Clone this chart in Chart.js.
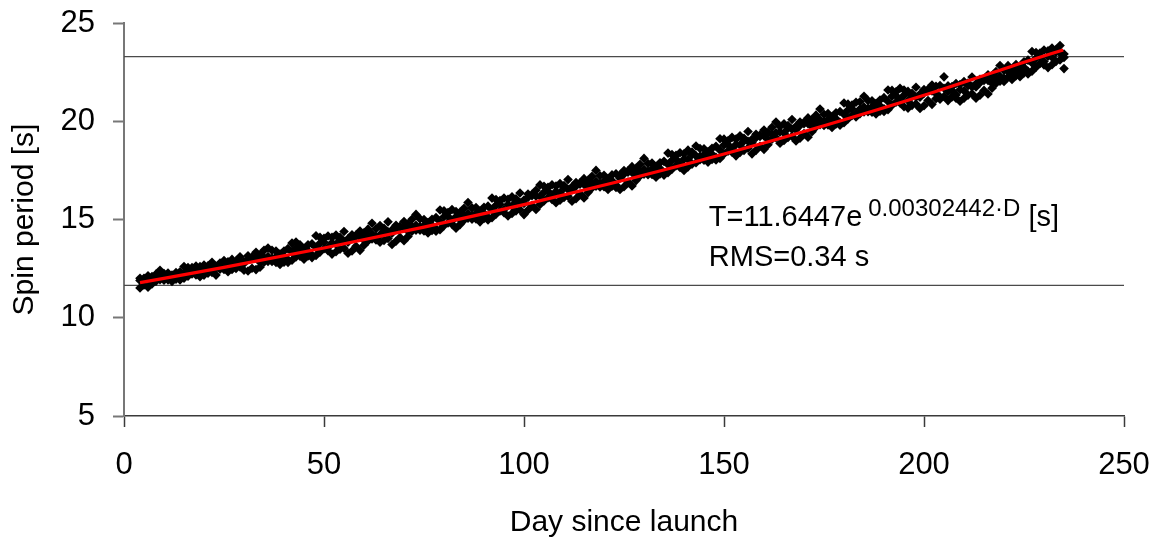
<!DOCTYPE html>
<html>
<head>
<meta charset="utf-8">
<script src="https://cdn.jsdelivr.net/npm/chart.js@4.4.1/dist/chart.umd.min.js"></script>
<style>
  html, body { margin: 0; padding: 0; background: #fff; }
  #wrap { width: 1156px; height: 538px; position: relative; }
</style>
</head>
<body>
<div id="wrap"><canvas id="spinChart"></canvas></div>
<script>
// --- data ---
const xTicks = [0, 50, 100, 150, 200, 250];
const yTicks = [5, 10, 15, 20, 25];

// day, then three spin-period readings for that day [s]
const readings = [
  [4,11.90,11.52,12.01],[5,12.01,11.97,11.67],[6,11.55,11.96,12.14],[7,11.88,11.72,12.10],
  [8,12.22,11.86,12.00],[9,12.09,11.94,12.42],[10,11.91,12.01,12.25],[11,11.93,12.28,12.10],
  [12,11.85,12.00,12.17],[13,11.96,12.30,12.12],[14,12.00,12.34,11.92],[15,12.61,12.26,12.01],
  [16,12.56,12.11,12.38],[17,12.43,12.55,12.23],[18,12.28,12.63,12.18],[19,12.60,12.44,12.09],
  [20,12.17,12.68,12.40],[21,12.64,12.27,12.56],[22,12.52,12.82,12.31],[23,12.51,12.17,12.61],
  [24,12.67,12.79,12.47],[25,12.56,12.91,12.46],[26,12.85,12.69,12.34],[27,12.46,12.97,12.69],
  [28,12.88,12.51,12.80],[29,12.80,13.10,12.59],[30,12.76,12.42,12.86],[31,12.97,12.38,13.15],
  [32,13.09,13.02,12.52],[33,12.45,13.03,13.33],[34,12.83,12.57,13.20],[35,13.43,12.83,13.06],
  [36,13.12,12.87,13.55],[37,12.86,13.03,13.43],[38,12.82,13.40,13.10],[39,12.71,12.96,13.24],
  [40,12.83,13.40,13.10],[41,12.95,13.52,12.82],[42,13.80,13.35,12.93],[43,13.85,13.10,13.55],
  [44,13.13,13.71,13.41],[45,12.98,13.23,13.51],[46,13.14,13.71,13.41],[47,13.19,13.76,13.06],
  [48,14.17,13.59,13.17],[49,14.09,13.34,13.79],[50,13.84,14.04,13.51],[51,13.58,14.16,13.41],
  [52,14.09,13.82,13.24],[53,13.36,14.21,13.74],[54,14.10,13.49,13.97],[55,13.89,14.39,13.54],
  [56,13.85,13.28,14.02],[57,14.04,13.40,14.22],[58,14.21,14.14,13.64],[59,13.43,14.11,14.41],
  [60,13.95,13.69,14.32],[61,14.51,13.91,14.14],[62,14.26,14.01,14.81],[63,13.96,14.13,14.53],
  [64,13.84,14.69,14.22],[65,14.55,13.94,14.42],[66,14.38,14.88,14.03],[67,14.30,13.73,14.47],
  [68,14.53,13.89,14.71],[69,14.66,14.59,14.09],[70,13.92,14.60,14.90],[71,14.40,14.14,14.77],
  [72,15.01,14.41,14.64],[73,14.71,14.46,15.26],[74,14.46,14.63,15.03],[75,14.42,15.00,14.70],
  [76,14.31,14.56,14.84],[77,14.44,15.01,14.71],[78,14.53,15.10,14.40],[79,15.48,14.90,14.48],
  [80,15.44,14.69,15.14],[81,15.15,15.35,14.82],[82,14.93,15.51,14.76],[83,15.41,15.14,14.56],
  [84,15.00,14.74,15.37],[85,15.57,14.97,15.20],[86,15.31,15.06,15.86],[87,15.02,15.19,15.59],
  [88,15.03,15.61,15.31],[89,14.88,15.13,15.41],[90,15.05,15.62,15.32],[91,15.11,15.68,14.98],
  [92,16.09,15.51,15.09],[93,16.02,15.27,15.72],[94,15.76,15.96,15.43],[95,15.51,16.09,15.34],
  [96,16.03,15.76,15.18],[97,15.31,16.16,15.69],[98,16.05,15.44,15.92],[99,15.85,16.35,15.50],
  [100,15.82,15.25,15.99],[101,16.12,15.48,16.30],[102,16.28,16.21,15.71],[103,15.51,16.19,16.49],
  [104,16.76,16.18,15.76],[105,16.69,15.94,16.39],[106,16.44,16.64,16.11],[107,16.19,16.77,16.02],
  [108,16.70,16.43,15.85],[109,15.98,16.83,16.36],[110,16.73,16.12,16.60],[111,16.53,17.03,16.18],
  [112,16.50,15.93,16.67],[113,16.70,16.06,16.88],[114,16.87,16.80,16.30],[115,16.10,16.78,17.08],
  [116,16.63,16.37,17.00],[117,17.20,16.60,16.83],[118,16.95,16.70,17.50],[119,16.66,16.83,17.23],
  [120,16.67,17.25,16.95],[121,16.53,16.78,17.06],[122,16.70,17.27,16.97],[123,16.76,17.33,16.63],
  [124,17.10,16.53,17.27],[125,17.31,16.67,17.49],[126,17.48,17.41,16.91],[127,16.71,17.39,17.69],
  [128,17.24,16.98,17.61],[129,17.81,17.21,17.44],[130,17.56,17.31,18.11],[131,17.28,17.45,17.85],
  [132,17.29,17.87,17.57],[133,17.15,17.40,17.68],[134,17.32,17.89,17.59],[135,17.39,17.96,17.26],
  [136,18.38,17.80,17.38],[137,18.31,17.56,18.01],[138,18.07,18.27,17.74],[139,17.82,18.40,17.65],
  [140,18.34,18.07,17.49],[141,17.68,18.53,18.06],[142,18.43,17.82,18.30],[143,18.24,18.74,17.89],
  [144,18.04,18.21,18.61],[145,18.02,18.60,18.30],[146,17.92,18.17,18.45],[147,18.05,18.62,18.32],
  [148,18.16,18.73,18.03],[149,19.11,18.53,18.11],[150,19.09,18.34,18.79],[151,18.81,19.01,18.48],
  [152,18.60,19.18,18.43],[153,19.09,18.82,18.24],[154,18.41,19.26,18.79],[155,19.13,18.52,19.00],
  [156,18.98,19.48,18.63],[157,18.91,18.34,19.08],[158,19.16,18.52,19.34],[159,19.30,19.23,18.73],
  [160,18.57,19.25,19.55],[161,19.07,18.81,19.44],[162,19.69,19.09,19.32],[163,19.41,19.16,19.96],
  [164,19.73,19.46,18.88],[165,19.02,19.87,19.40],[166,19.78,19.17,19.65],[167,19.59,20.09,19.24],
  [168,19.57,19.00,19.74],[169,19.78,19.14,19.96],[170,19.95,19.88,19.38],[171,19.19,19.87,20.17],
  [172,19.73,19.47,20.10],[173,20.31,19.71,19.94],[174,20.07,19.82,20.62],[175,19.79,19.96,20.36],
  [176,19.81,20.39,20.09],[177,19.68,19.93,20.21],[178,19.86,20.43,20.13],[179,19.93,20.50,19.80],
  [180,20.93,20.35,19.93],[181,20.87,20.12,20.57],[182,20.63,20.83,20.30],[183,20.39,20.97,20.22],
  [184,20.99,20.39,20.62],[185,20.72,20.47,21.27],[186,20.48,20.65,21.05],[187,20.46,21.04,20.74],
  [188,20.37,20.62,20.90],[189,20.51,21.08,20.78],[190,20.63,21.20,20.50],[191,21.59,21.01,20.59],
  [192,21.57,20.82,21.27],[193,21.30,21.50,20.97],[194,21.10,21.68,20.93],[195,21.59,21.32,20.74],
  [196,20.67,21.52,21.05],[197,21.42,20.81,21.29],[198,21.23,21.73,20.88],[199,21.22,20.65,21.39],
  [200,21.43,20.79,21.61],[201,21.62,21.55,21.05],[202,20.86,21.54,21.84],[203,21.41,21.15,21.78],
  [204,21.25,21.82,21.12],[205,22.26,21.68,21.26],[206,21.80,21.05,21.50],[207,21.57,21.77,21.24],
  [208,21.34,21.92,21.17],[209,21.87,21.60,21.02],[210,21.17,22.02,21.55],[211,21.94,21.33,21.81],
  [212,21.75,22.25,21.40],[213,21.74,21.17,21.91],[214,21.96,21.32,22.14],[215,22.14,22.07,21.57],
  [216,21.39,22.07,22.37],[217,21.94,21.68,22.31],[218,22.53,21.93,22.16],[219,22.29,22.04,22.84],
  [220,22.02,22.19,22.59],[221,22.25,22.83,22.53],[222,22.13,22.38,22.66],[223,22.32,22.89,22.59],
  [224,22.27,22.52,22.80],[225,22.46,23.03,22.73],[226,22.54,23.11,22.41],[227,23.55,22.97,22.55],
  [228,23.50,22.75,23.20],[229,23.27,23.47,22.94],[230,23.04,23.62,22.87],[231,23.58,23.31,22.73],
  [232,22.88,23.73,23.26],[233,23.65,23.04,23.52],[234,23.47,23.85,23.12],[235,23.25,22.68,23.42]
];

// red fitted curve
const fitDays    = [4, 25, 50, 75, 100, 125, 150, 175, 200, 225, 234.8];
const fitPeriods = [11.79, 12.56, 13.55, 14.61, 15.76, 17.00, 18.33, 19.77, 21.32, 23.00, 23.63];

// the two thin horizontal reference lines (initial period and its double)
const refLevels = [11.6447, 23.2894];
const refSpan = [0, 250];

const noteMain = 'T=11.6447e';
const noteExp = '0.00302442\u00B7D';
const noteUnit = ' [s]';
const noteRms = 'RMS=0.34 s';

// --- build datasets ---
const scatterPts = [];
readings.forEach(r => {
  for (let i = 1; i < r.length; i++) scatterPts.push({x: r[0], y: r[i]});
});
const fitPts = fitDays.map((d, i) => ({x: d, y: fitPeriods[i]}));

const FONT = "'Liberation Sans', Arial, sans-serif";

// annotation text (formula + RMS)
const notePlugin = {
  id: 'note',
  afterDatasetsDraw(chart) {
    const {ctx, scales: {x, y}} = chart;
    const left = x.getPixelForValue(146.2);
    const base1 = y.getPixelForValue(14.67);
    const base2 = y.getPixelForValue(12.63);
    ctx.save();
    ctx.fillStyle = '#000';
    ctx.textBaseline = 'alphabetic';
    ctx.textAlign = 'left';
    ctx.font = '29px ' + FONT;
    ctx.fillText(noteMain, left, base1);
    const w = ctx.measureText(noteMain).width;
    ctx.font = '24px ' + FONT;
    ctx.fillText(noteExp, left + w + 6, base1 - 10);
    const w2 = ctx.measureText(noteExp).width;
    ctx.font = '29px ' + FONT;
    ctx.fillText(noteUnit, left + w + 6 + w2, base1);
    ctx.fillText(noteRms, left, base2);
    ctx.restore();
  }
};

new Chart(document.getElementById('spinChart'), {
  data: {
    datasets: [
      {
        type: 'line',
        data: fitPts,
        borderColor: '#ff0000',
        borderWidth: 3.2,
        pointRadius: 0,
        cubicInterpolationMode: 'monotone',
        order: 0
      },
      {
        type: 'scatter',
        data: scatterPts,
        pointStyle: 'rectRot',
        pointRadius: 4.8,
        backgroundColor: '#000',
        borderColor: '#000',
        borderWidth: 0,
        order: 1
      },
      ...refLevels.map(v => ({
        type: 'line',
        data: refSpan.map(d => ({x: d, y: v})),
        borderColor: '#4a4a4a',
        borderWidth: 1.3,
        pointRadius: 0,
        order: 2
      }))
    ]
  },
  options: {
    responsive: true,
    maintainAspectRatio: false,
    animation: false,
    events: [],
    layout: { padding: { top: 23, right: 32, left: 0, bottom: 0 } },
    plugins: { legend: { display: false }, tooltip: { enabled: false } },
    scales: {
      x: {
        type: 'linear',
        min: 0, max: 250,
        afterBuildTicks: s => { s.ticks = xTicks.map(v => ({value: v})); },
        afterFit: s => { s.height = 122; s.paddingLeft = 0; s.paddingRight = 0; },
        grid: { drawOnChartArea: false, drawTicks: true, tickLength: 11, tickColor: '#3a3a3a', tickWidth: 1.5 },
        border: { display: true, color: '#3a3a3a', width: 1.5 },
        ticks: { color: '#000', padding: 20, font: { family: FONT, size: 31 } },
        title: { display: true, text: 'Day since launch', color: '#000',
                 font: { family: FONT, size: 30, lineHeight: 1 }, padding: { top: 0, bottom: 0 } }
      },
      y: {
        type: 'linear',
        min: 5, max: 25,
        afterBuildTicks: s => { s.ticks = yTicks.map(v => ({value: v})); },
        afterFit: s => { s.width = 124; s.paddingTop = 0; s.paddingBottom = 0; },
        grid: { drawOnChartArea: false, drawTicks: true, tickLength: 11, tickColor: '#777', tickWidth: 2 },
        border: { display: true, color: '#777', width: 2 },
        ticks: { color: '#000', padding: 18, font: { family: FONT, size: 31 } },
        title: { display: true, text: 'Spin period [s]', color: '#000',
                 font: { family: FONT, size: 30, lineHeight: 1 }, padding: { top: 10, bottom: 0 } }
      }
    }
  },
  plugins: [notePlugin]
});
</script>
</body>
</html>
